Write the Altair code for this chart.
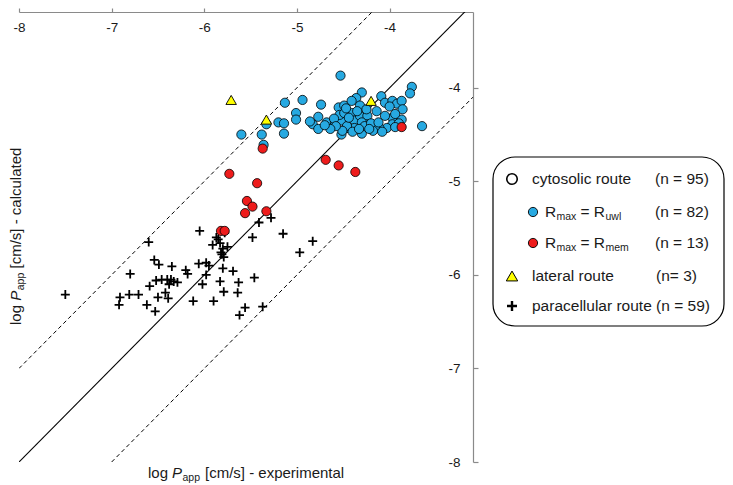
import altair as alt
import pandas as pd

# ---------------- data (log Papp, cm/s) ----------------
blue_x = [-5.60, -5.38, -5.36, -5.33, -5.13, -4.94, -5.01, -5.01, -5.20, -5.14,
          -5.14, -4.74, -4.53, -4.83, -4.77, -4.77, -4.68, -4.59, -4.52, -4.55,
          -4.49, -4.54, -4.46, -4.52, -4.30, -4.36, -4.41, -4.32, -4.41, -4.49,
          -4.38, -4.32, -4.24, -4.25, -4.14, -4.09, -4.05, -3.97, -3.92, -3.87,
          -3.86, -3.76, -3.78, -3.97, -3.87, -3.97, -4.03, -4.11, -4.16, -4.18,
          -4.24, -4.30, -4.38, -4.46, -4.30, -3.65, -4.51, -4.60, -4.44, -4.35,
          -4.27, -4.20, -4.12, -4.00, -3.94, -3.90, -4.05, -4.47, -4.58, -4.64,
          -4.40, -4.33, -4.22, -4.08, -3.94, -4.70, -4.86]
blue_y = [-4.50, -4.50, -4.61, -4.39, -4.16, -4.13, -4.27, -4.34, -4.37, -4.38,
          -4.49, -4.18, -3.87, -4.39, -4.31, -4.44, -4.37, -4.37, -4.35, -4.21,
          -4.19, -4.29, -4.43, -4.50, -4.05, -4.11, -4.14, -4.19, -4.27, -4.27,
          -4.35, -4.30, -4.30, -4.23, -4.25, -4.09, -4.16, -4.14, -4.17, -4.14,
          -4.23, -3.99, -4.06, -4.32, -4.34, -4.39, -4.43, -4.43, -4.43, -4.46,
          -4.39, -4.37, -4.43, -4.41, -4.49, -4.41, -4.46, -4.33, -4.32, -4.25,
          -4.41, -4.38, -4.37, -4.20, -4.28, -4.38, -4.30, -4.22, -4.41, -4.44,
          -4.47, -4.44, -4.44, -4.47, -4.42, -4.40, -4.36]

red_x = [-5.37, -5.73, -5.43, -5.54, -5.48, -5.56, -5.33, -5.82, -5.78, -4.69,
         -4.55, -4.37, -3.87]
red_y = [-4.65, -4.92, -5.02, -5.21, -5.27, -5.34, -5.32, -5.53, -5.53, -4.77,
         -4.83, -4.90, -4.42]

tri_x = [-5.71, -5.33, -4.20]
tri_y = [-4.13, -4.34, -4.14]

plus_x = [-7.50,
          -6.60, -6.54, -6.49, -6.35, -6.80, -6.91, -6.92, -6.81, -6.71, -6.59,
          -6.52, -6.46, -6.40, -6.36, -6.33, -6.29, -6.42, -6.50, -6.39, -6.62,
          -6.53,
          -6.20, -6.18, -6.06, -5.98, -6.05, -5.87, -5.91, -5.83, -5.75, -5.81,
          -5.79, -5.98, -5.80, -5.69, -6.02, -5.83, -5.63, -5.79, -5.64, -6.12,
          -5.90, -5.46, -5.48, -5.41, -5.28, -5.15, -5.56, -5.62, -5.37, -4.97,
          -4.83,
          -5.82, -5.85, -5.78, -5.80, -6.38, -5.95]
plus_y = [-6.21,
          -5.65, -5.84, -5.89, -5.91, -5.99, -6.24, -6.32, -6.21, -6.21, -6.12,
          -6.06, -6.05, -6.05, -6.05, -6.07, -6.08, -6.19, -6.24, -6.25, -6.32,
          -6.39,
          -5.95, -5.99, -5.88, -5.87, -5.53, -5.60, -5.68, -5.66, -5.70, -5.78,
          -5.81, -6.00, -5.93, -5.96, -6.10, -6.07, -6.08, -6.18, -6.19, -6.28,
          -6.28, -6.03, -5.60, -5.44, -5.39, -5.56, -6.35, -6.43, -6.34, -5.76,
          -5.64,
          -5.76, -5.62, -5.55, -5.72, -6.10, -5.90]

# reference lines: identity and +/- 1 log unit
solid_x = [-8.0, -3.1]
solid_y = [-8.0, -3.1]
dash_x = [-8.0, -4.1, -7.0, -3.1]
dash_y = [-7.0, -3.1, -8.0, -4.1]
dash_g = ["upper", "upper", "lower", "lower"]

x_ticks = [-8, -7, -6, -5, -4]
y_ticks = [-8, -7, -6, -5, -4]

legend_counts = ["(n = 95)", "(n = 82)", "(n = 13)", "(n= 3)"]

# ---------------- styling ----------------
FONT = "Liberation Sans"
BLUE = "#27A9E1"
RED = "#EE1C1C"
YELLOW = "#FFFF00"
AXIS_GREY = "#8A8A8A"
TXT = "#1A1A1A"

W, H = 454, 450
xs = alt.Scale(domain=[-8, -3.1], nice=False, zero=False)
ys = alt.Scale(domain=[-8, -3.19], nice=False, zero=False)

x_axis = alt.Axis(orient="top", values=x_ticks, title=None, grid=False,
                  domainColor=AXIS_GREY, domainWidth=1.2, tickColor=AXIS_GREY,
                  tickWidth=1.2, tickSize=4, labelBaseline="middle", labelAlign="center",
                  labelPadding=-19, labelFont=FONT, labelFontSize=13.5,
                  labelColor=TXT, labelFlush=False, labelOverlap=False,
                  labelExpr="'' + datum.value")
y_axis = alt.Axis(orient="right", values=y_ticks, title=None, grid=False,
                  domainColor=AXIS_GREY, domainWidth=1.2, tickColor=AXIS_GREY,
                  tickWidth=1.2, tickSize=5, labelAlign="right", labelBaseline="middle",
                  labelPadding=-18, labelFont=FONT, labelFontSize=13.5,
                  labelColor=TXT, labelFlush=False, labelOverlap=False,
                  labelExpr="'' + datum.value")

X = alt.X("x:Q", scale=xs, axis=x_axis)
Y = alt.Y("y:Q", scale=ys, axis=y_axis)

solid_df = pd.DataFrame({"x": solid_x, "y": solid_y})
dash_df = pd.DataFrame({"x": dash_x, "y": dash_y, "g": dash_g})
blue_df = pd.DataFrame({"x": blue_x, "y": blue_y})
red_df = pd.DataFrame({"x": red_x, "y": red_y})
tri_df = pd.DataFrame({"x": tri_x, "y": tri_y})
plus_df = pd.DataFrame({"x": plus_x, "y": plus_y})

PLUS = "M-1,0L1,0M0,-1L0,1"

solid = alt.Chart(solid_df).mark_line(color="black", strokeWidth=1.1, clip=True).encode(x=X, y=Y)
dashed = alt.Chart(dash_df).mark_line(color="black", strokeWidth=1, strokeDash=[4, 3],
                                      clip=True).encode(x=X, y=Y, detail="g:N")
plus = alt.Chart(plus_df).mark_point(shape=PLUS, filled=False, stroke="black",
                                     strokeWidth=1.8, size=80, opacity=1).encode(x=X, y=Y)
blue = alt.Chart(blue_df).mark_point(shape="circle", filled=True, fill=BLUE, stroke="black",
                                     strokeWidth=0.8, size=85, opacity=1).encode(x=X, y=Y)
red = alt.Chart(red_df).mark_point(shape="circle", filled=True, fill=RED, stroke="black",
                                   strokeWidth=0.8, size=85, opacity=1).encode(x=X, y=Y)
tri = alt.Chart(tri_df).mark_point(shape="triangle-up", filled=True, fill=YELLOW, stroke="black",
                                   strokeWidth=0.9, size=110, opacity=1).encode(x=X, y=Y)

dummy = pd.DataFrame({"d": [0]})


def txt(s, x, y, size=15.5, style="normal", angle=0):
    kw = dict(text=s, font=FONT, fontSize=size, fontStyle=style, align="left",
              baseline="middle", color=TXT)
    if angle:
        kw["angle"] = angle
    return alt.Chart(dummy).mark_text(**kw).encode(x=alt.value(x), y=alt.value(y))


def sym(shape, x, y, size, fill, sw=1.0, filled=True):
    return alt.Chart(dummy).mark_point(shape=shape, size=size, filled=filled, fill=fill,
                                       stroke="black", strokeWidth=sw, opacity=1).encode(
        x=alt.value(x), y=alt.value(y))


# axis titles (with italic P and subscript "app")
titles = [
    txt("log", 129, 461, 15),
    txt("P", 153, 461, 15, "italic"),
    txt("app", 163.5, 466, 10.5),
    txt("[cm/s] - experimental", 186, 461, 15),
    txt("log", -3, 313, 15, angle=270),
    txt("P", -3, 288.8, 15, "italic", angle=270),
    txt("app", 2, 278.3, 10.5, angle=270),
    txt("[cm/s] - calculated", -3, 256.5, 15, angle=270),
]

# legend box
box = alt.Chart(dummy).mark_rect(cornerRadius=22, fill="white", stroke="black",
                                 strokeWidth=1.2).encode(
    x=alt.value(474), x2=alt.value(705), y=alt.value(145), y2=alt.value(314))

legend = [
    box,
    sym("circle", 493, 167, 110, "white", 1.6),
    txt("cytosolic route", 513, 167),
    txt(legend_counts[0], 636, 167),
    sym("circle", 514, 200, 85, BLUE, 0.9),
    txt("R", 526, 200),
    txt("max", 537.5, 205, 10.5),
    txt("= R", 561.5, 200),
    txt("uwl", 586.5, 205, 10.5),
    txt(legend_counts[1], 636, 200),
    sym("circle", 514, 231, 85, RED, 0.9),
    txt("R", 526, 231),
    txt("max", 537.5, 236, 10.5),
    txt("= R", 561.5, 231),
    txt("mem", 586.5, 236, 10.5),
    txt(legend_counts[2], 636, 231),
    sym("triangle-up", 493, 264, 130, YELLOW, 1.0),
    txt("lateral route", 513, 264),
    txt(legend_counts[3], 637, 264),
    alt.Chart(dummy).mark_point(shape=PLUS, filled=False, stroke="black", strokeWidth=2.4,
                                size=100, opacity=1).encode(x=alt.value(493), y=alt.value(294)),
    txt("paracellular route (n = 59)", 513, 294),
]

chart = alt.layer(solid, dashed, plus, blue, red, tri, *titles, *legend).properties(
    width=W, height=H, autosize="none",
    padding={"left": 11, "top": 4, "right": 252, "bottom": 23},
).configure_view(stroke=None)

chart.save("out.html", embed_options={"renderer": "svg", "actions": False})
